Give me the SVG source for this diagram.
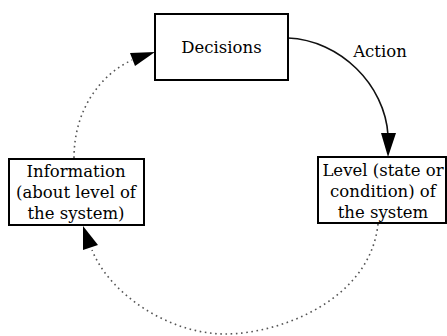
<svg xmlns="http://www.w3.org/2000/svg" width="447" height="336" viewBox="0 0 447 336" font-family="DejaVu Serif, serif">
<style>
.box{fill:#fff;stroke:#000;stroke-width:2}
.lbl{font-size:16.5px;fill:#000;text-anchor:middle}
.solid{fill:none;stroke:#111;stroke-width:1.6}
.dot{fill:none;stroke:#555;stroke-width:1.6;stroke-dasharray:1.6 3.6}
.head{fill:#000;stroke:none}
</style>
<rect width="447" height="336" fill="#fff"/>
<g id="connectors">
<path class="solid" d="M288,38 C340,40 385,85 388,135"/>
<polygon class="head" points="388,157 381,133 396,133"/>
<text class="lbl" x="380" y="57">Action</text>
<path class="dot" d="M378,224 C370,300 280,334 225,334 C170,334 110,295 92,250"/>
<polygon class="head" points="83,226 83,250 98,245"/>
<path class="dot" d="M74,158 C74,110 100,75 132,60"/>
<polygon class="head" points="155,52 130,53 135,66"/>
</g>
<g id="decisions">
<rect class="box" x="155" y="14" width="133" height="66"/>
<text class="lbl" x="221.5" y="53">Decisions</text>
</g>
<g id="level">
<rect class="box" x="318" y="157" width="128" height="66"/>
<text class="lbl" x="383" y="176">Level (state or</text>
<text class="lbl" x="383" y="197">condition) of</text>
<text class="lbl" x="383" y="218">the system</text>
</g>
<g id="information">
<rect class="box" x="9" y="159" width="135" height="66"/>
<text class="lbl" x="76" y="177">Information</text>
<text class="lbl" x="76" y="198">(about level of</text>
<text class="lbl" x="76" y="218.5">the system)</text>
</g>
</svg>
